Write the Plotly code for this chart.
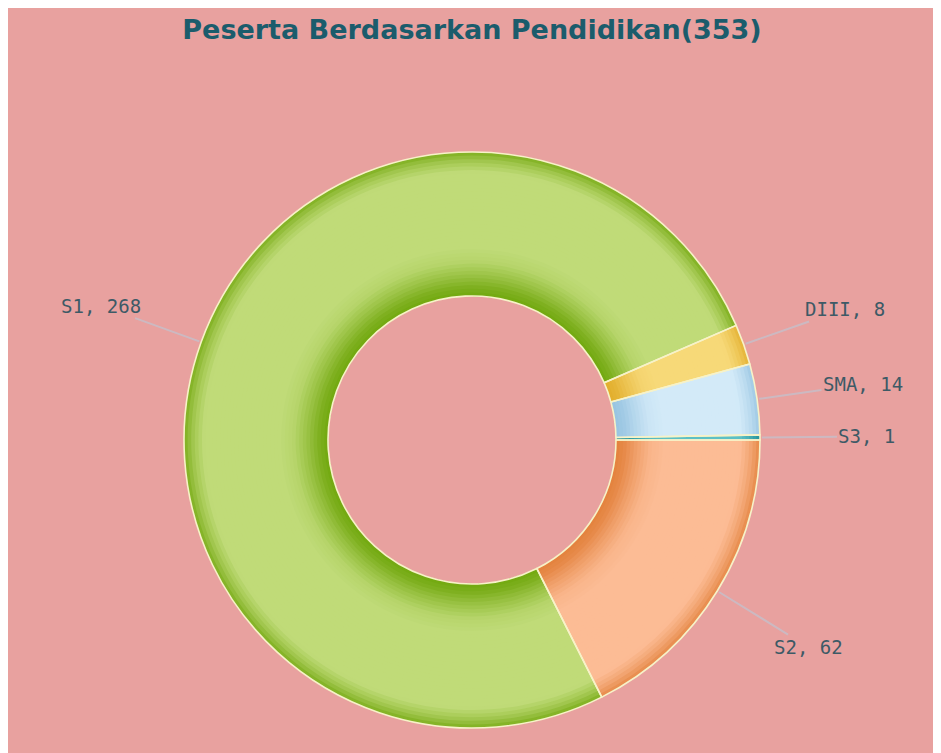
import numpy as np
import plotly.graph_objects as go

# data (clockwise from 3 o'clock)
labels = ["S2", "S1", "DIII", "SMA", "S3"]
values = [62, 268, 8, 14, 1]
title_text = "Peserta Berdasarkan Pendidikan"

light_colors = ["#FCBC95", "#C0DB78", "#F7D978", "#D3EAF8", "#5CC0C5"]
dark_colors = ["#E3813C", "#72A80F", "#E2AE2C", "#97C4E1", "#1C8A92"]

W, H = 941, 753
CX, CY = 464, 432          # pie centre in px (figure coords, page has 8px body margin)
R_OUT = 288
R_IN = R_OUT * 0.5
BG = "#E8A19F"


def hex_rgb(h):
    h = h.lstrip("#")
    return np.array([int(h[i:i + 2], 16) for i in (0, 2, 4)], dtype=float)


def mix(c1, c2, m):
    c = hex_rgb(c1) * (1 - m) + hex_rgb(c2) * m
    return "rgb(%d,%d,%d)" % tuple(np.round(c))


def sq_domain(r):
    return dict(x=[(CX - r) / W, (CX + r) / W],
                y=[(H - CY - r) / H, (H - CY + r) / H])


# radial shading profile: t=0 inner edge, t=1 outer edge, m=darkness
prof_t = [0.0, 0.06, 0.14, 0.24, 0.34, 0.86, 0.93, 1.0]
prof_m = [1.0, 0.85, 0.5, 0.12, 0.0, 0.0, 0.35, 0.85]

fig = go.Figure()

n_bands = 40
edges = np.linspace(1.0, 0.0, n_bands + 1)
for k in range(n_bands):
    t_hi, t_lo = edges[k], edges[k + 1]
    r = R_IN + t_hi * (R_OUT - R_IN)
    m = float(np.interp((t_hi + t_lo) / 2, prof_t, prof_m))
    cols = [mix(l, d, m) for l, d in zip(light_colors, dark_colors)]
    fig.add_trace(go.Pie(
        labels=labels, values=values, sort=False,
        direction="clockwise", rotation=90,
        hole=R_IN / r, domain=sq_domain(r),
        marker=dict(colors=cols, line=dict(width=0)),
        textinfo="none", hoverinfo="skip", showlegend=False,
    ))

# outlines on top
fig.add_trace(go.Pie(
    labels=labels, values=values, sort=False,
    direction="clockwise", rotation=90,
    hole=0.5, domain=sq_domain(R_OUT),
    marker=dict(colors=["rgba(0,0,0,0)"] * len(values),
                line=dict(color="#F7F2C8", width=1.6)),
    textinfo="none", hovertemplate="%{label}, %{value}<extra></extra>",
    showlegend=False,
))

# outside labels with leader lines
total = sum(values)
cum = np.cumsum([0] + values[:-1])
annotations = []
for lab, v, c in zip(labels, values, cum):
    th = np.deg2rad(360.0 * (c + v / 2) / total)
    px, py = CX + (R_OUT + 2) * np.cos(th), CY + (R_OUT + 2) * np.sin(th)
    lx, ly = CX + 395 * np.cos(th), CY + 395 * np.sin(th)
    annotations.append(dict(
        x=px / W, y=1 - py / H, xref="paper", yref="paper",
        ax=lx - px, ay=ly - py, axref="pixel", ayref="pixel",
        text=f"{lab}, {v}", showarrow=True, arrowhead=0,
        arrowwidth=2, arrowcolor="rgba(200,190,200,0.85)", standoff=0,
        font=dict(family="DejaVu Sans Mono", size=19, color="#3D5A66"),
    ))

fig.update_layout(
    width=W, height=H,
    paper_bgcolor=BG, plot_bgcolor=BG,
    margin=dict(l=0, r=0, t=0, b=0),
    title=dict(text=f"<b>{title_text}({total})</b>", x=(472 - 8) / W, xanchor="center",
               y=1 - 22 / H, yanchor="middle", yref="container",
               font=dict(family="DejaVu Sans", size=27, color="#1B5C6C")),
    annotations=annotations,
)

fig.write_html("out.html")
